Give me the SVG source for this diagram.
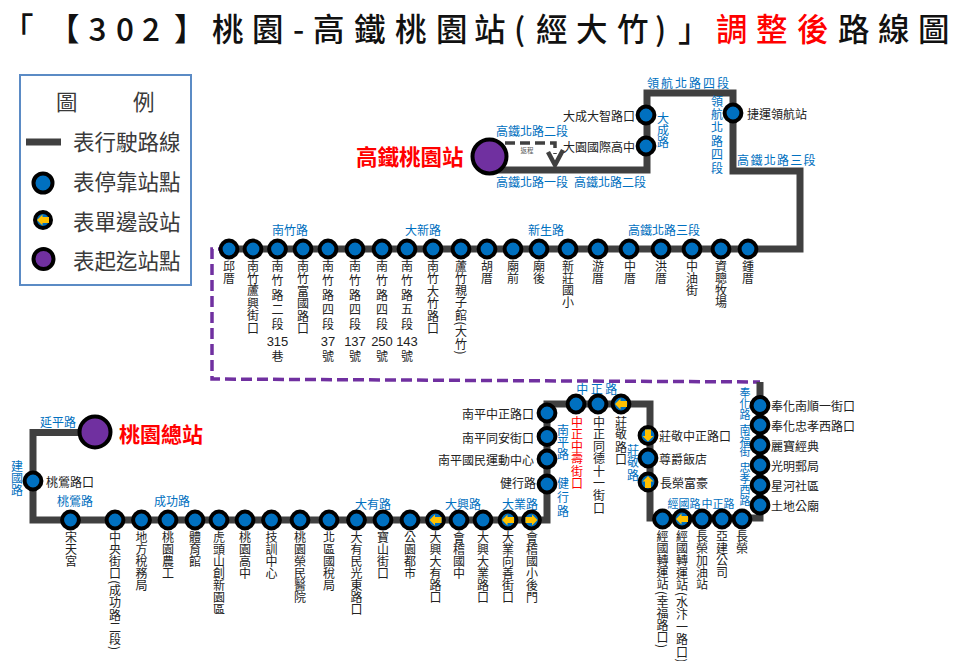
<svg xmlns="http://www.w3.org/2000/svg" width="960" height="661" viewBox="0 0 960 661">
<style>
text{font-family:"Noto Sans CJK TC","Noto Sans CJK SC",sans-serif;fill:#222}
.s{fill:#0070c0;stroke:#000;stroke-width:4}
.p{fill:#7030a0;stroke:#000;stroke-width:4}
.a{fill:#ffc000}
.route{fill:none;stroke:#404040;stroke-width:7;stroke-linejoin:miter}
.v{writing-mode:vertical-rl;font-size:12px}
.h{font-size:12px;dominant-baseline:central}
.n{font-family:"Liberation Sans",sans-serif;font-size:13px;text-anchor:middle;dominant-baseline:central}
.r{font-size:12px;fill:#0070c0;text-anchor:middle;dominant-baseline:central}
.rv{writing-mode:vertical-rl;font-size:12px;fill:#0070c0}
.big{font-weight:700;fill:#ff0000;dominant-baseline:central}
.lg{font-size:21.5px;dominant-baseline:central;fill:#3a3a3a}
</style>
<defs>
<polygon id="aL" class="a" points="-6,0 -0.500,-5.500 -0.500,-3 6,-3 6,3 -0.500,3 -0.500,5.500"/>
<polygon id="aR" class="a" points="6,0 0.500,-5.500 0.500,-3 -6,-3 -6,3 0.500,3 0.500,5.500"/>
<polygon id="aU" class="a" points="0,-6 -5.500,-0.500 -3,-0.500 -3,6 3,6 3,-0.500 5.500,-0.500"/>
<polygon id="aD" class="a" points="0,6 -5.500,0.500 -3,0.500 -3,-6 3,-6 3,0.500 5.500,0.500"/>
</defs>
<rect width="960" height="661" fill="#fff"/>

<g id="title">
<text y="41" font-size="31.500" font-weight="500" style="fill:#111" x="2 48 88.500 116 142 174 212 252 293 313 354 395 436 474 514 536 576 617 655 678 716 756 797 838 878 918">「【302】桃園-高鐵桃園站(經大竹)」<tspan style="fill:#ff0000">調整後</tspan>路線圖</text>
</g>

<g id="legend">
<rect x="20" y="75" width="171" height="210" fill="#fff" stroke="#5b8bc5" stroke-width="2"/>
<text class="lg" x="56" y="100">圖</text>
<text class="lg" x="133" y="100">例</text>
<line x1="26" y1="142" x2="61" y2="142" stroke="#404040" stroke-width="7"/>
<text class="lg" x="73" y="140">表行駛路線</text>
<circle cx="43" cy="183" r="9.500" class="s"/>
<text class="lg" x="73" y="180">表停靠站點</text>
<circle cx="43" cy="220" r="8" class="s"/>
<use href="#aL" x="43" y="220"/>
<text class="lg" x="73" y="220">表單邊設站</text>
<circle cx="43.500" cy="259" r="10" class="p"/>
<text class="lg" x="73" y="259">表起迄站點</text>
</g>

<g id="connectors">
<path class="route" d="M489 170H647V93H733V171H800V249H229"/>
<path d="M229 249H212V379L760 382" fill="none" stroke="#7030a0" stroke-width="3.500" stroke-dasharray="11 5"/>
<path class="route" d="M760 382V518H650V404H547V520H33V432.500H95"/>
<path d="M505 143H555V154" fill="none" stroke="#404040" stroke-width="3.500" stroke-dasharray="10 5"/>
<path d="M548 152L555 165L563 150" fill="none" stroke="#404040" stroke-width="4.500"/>
</g>

<g id="road-labels">
<text class="r" x="290" y="229.500">南竹路</text>
<text class="r" x="423" y="229.500">大新路</text>
<text class="r" x="546" y="229.500">新生路</text>
<text class="r" x="664" y="229.500">高鐵北路三段</text>
<text class="r" x="689" y="82.500" letter-spacing="2">領航北路四段</text>
<text class="r" x="532" y="130.500">高鐵北路二段</text>
<text class="r" x="532" y="181">高鐵北路一段</text>
<text class="r" x="610" y="181">高鐵北路二段</text>
<text class="r" x="777" y="159" letter-spacing="1.300">高鐵北路三段</text>
<text class="rv" x="663" y="112">大成路</text>
<text class="rv" x="717" y="95" letter-spacing="1.400">領航北路四段</text>
<text class="r" x="598" y="388" letter-spacing="2.500">中正路</text>
<text class="rv" x="563" y="424">南平路</text>
<text class="rv" x="563" y="477" letter-spacing="2">健行路</text>
<text class="rv" x="633" y="444" letter-spacing=".5">莊敬路</text>
<text class="r" x="463" y="503">大興路</text>
<text class="r" x="520" y="503">大業路</text>
<text class="r" x="373" y="503">大有路</text>
<text class="r" x="172" y="500.500">成功路</text>
<text class="r" x="75" y="500.500">桃鶯路</text>
<text class="r" x="58" y="421.500">延平路</text>
<text class="rv" x="17" y="460">建國路</text>
<text class="rv" x="745" y="387.500" style="font-size:11px">奉化路</text>
<text class="rv" x="745" y="424.500" style="font-size:11px">南福街</text>
<text class="rv" x="745" y="462" style="font-size:11px">忠孝西路</text>
<text class="r" x="684" y="502.500" style="font-size:11px">經國路</text>
<text class="r" x="718" y="502.500" style="font-size:11px">中正路</text>
<text x="527" y="150" font-size="6.500" text-anchor="middle" dominant-baseline="central" style="fill:#595959">返程</text>
</g>

<g id="hsr"><circle cx="489.500" cy="156.500" r="17" class="p"/><text class="big" font-size="21.500" x="356" y="155">高鐵桃園站</text></g>
<g id="terminal"><circle cx="95" cy="432" r="15.500" class="p"/><text class="big" font-size="21" x="119" y="433">桃園總站</text></g>

<g id="n-dzdz"><circle class="s" cx="646" cy="115" r="8.400"/><text class="h" x="563" y="115">大成大智路口</text></g>
<g id="n-dygj"><circle class="s" cx="646" cy="146" r="8.400"/><text class="h" x="563" y="146">大園國際高中</text></g>
<g id="n-jy"><circle class="s" cx="733" cy="113" r="8.400"/><text class="h" x="747" y="113">捷運領航站</text></g>

<g id="t01"><circle class="s" cx="229" cy="249" r="8.400"/><text class="v" x="229" y="260" letter-spacing=".7">邱厝</text></g>
<g id="t02"><circle class="s" cx="253" cy="249" r="8.400"/><text class="v" x="253" y="260" letter-spacing=".4">南竹蘆興街口</text></g>
<g id="t03"><circle class="s" cx="277.500" cy="249" r="8.400"/><text class="v" x="277.500" y="260" letter-spacing="2.600">南竹路二段</text><text class="n" x="277.500" y="341">315</text><text class="v" x="277.500" y="350">巷</text></g>
<g id="t04"><circle class="s" cx="303" cy="249" r="8.400"/><text class="v" x="303" y="260" letter-spacing=".5">南竹富國路口</text></g>
<g id="t05"><circle class="s" cx="328" cy="249" r="8.400"/><text class="v" x="328" y="260" letter-spacing="2.600">南竹路四段</text><text class="n" x="328" y="341">37</text><text class="v" x="328" y="350">號</text></g>
<g id="t06"><circle class="s" cx="355" cy="249" r="8.400"/><text class="v" x="355" y="260" letter-spacing="2.600">南竹路四段</text><text class="n" x="355" y="341">137</text><text class="v" x="355" y="350">號</text></g>
<g id="t07"><circle class="s" cx="382" cy="249" r="8.400"/><text class="v" x="382" y="260" letter-spacing="2.600">南竹路四段</text><text class="n" x="382" y="341">250</text><text class="v" x="382" y="350">號</text></g>
<g id="t08"><circle class="s" cx="407" cy="249" r="8.400"/><text class="v" x="407" y="260" letter-spacing="2.600">南竹路五段</text><text class="n" x="407" y="341">143</text><text class="v" x="407" y="350">號</text></g>
<g id="t09"><circle class="s" cx="433" cy="249" r="8.400"/><text class="v" x="433" y="260" letter-spacing=".5">南竹大竹路口</text></g>
<g id="t10"><circle class="s" cx="461" cy="249" r="8.400"/><text class="v" x="461" y="260" letter-spacing=".3">蘆竹親子館(大竹)</text></g>
<g id="t11"><circle class="s" cx="487" cy="249" r="8.400"/><text class="v" x="487" y="260" letter-spacing=".7">胡厝</text></g>
<g id="t12"><circle class="s" cx="513" cy="249" r="8.400"/><text class="v" x="513" y="260" letter-spacing=".7">廟前</text></g>
<g id="t13"><circle class="s" cx="539" cy="249" r="8.400"/><text class="v" x="539" y="260" letter-spacing=".7">廟後</text></g>
<g id="t14"><circle class="s" cx="568" cy="249" r="8.400"/><text class="v" x="568" y="260">新莊國小</text></g>
<g id="t15"><circle class="s" cx="598" cy="249" r="8.400"/><text class="v" x="598" y="260" letter-spacing=".7">游厝</text></g>
<g id="t16"><circle class="s" cx="629" cy="249" r="8.400"/><text class="v" x="630" y="260" letter-spacing=".7">中厝</text></g>
<g id="t17"><circle class="s" cx="661" cy="249" r="8.400"/><text class="v" x="661" y="260" letter-spacing=".7">洪厝</text></g>
<g id="t18"><circle class="s" cx="692" cy="249" r="8.400"/><text class="v" x="692" y="260">中油街</text></g>
<g id="t19"><circle class="s" cx="721" cy="249" r="8.400"/><text class="v" x="721" y="260">資聰牧場</text></g>
<g id="t20"><circle class="s" cx="748" cy="249" r="8.400"/><text class="v" x="748" y="260" letter-spacing=".7">鍾厝</text></g>

<g id="r1"><circle class="s" cx="760" cy="405.500" r="8.400"/><text class="h" x="771" y="405.500">奉化南順一街口</text></g>
<g id="r2"><circle class="s" cx="760" cy="425" r="8.400"/><text class="h" x="771" y="425">奉化忠孝西路口</text></g>
<g id="r3"><circle class="s" cx="760" cy="445" r="8.400"/><text class="h" x="771" y="445">麗寶經典</text></g>
<g id="r4"><circle class="s" cx="760" cy="465" r="8.400"/><text class="h" x="771" y="465">光明郵局</text></g>
<g id="r5"><circle class="s" cx="760" cy="485" r="8.400"/><text class="h" x="771" y="485">星河社區</text></g>
<g id="r6"><circle class="s" cx="760" cy="505" r="8.400"/><text class="h" x="771" y="505">土地公廟</text></g>

<g id="b1"><circle class="s" cx="742" cy="519" r="8.400"/><text class="v" x="742" y="530">長榮</text></g>
<g id="b2"><circle class="s" cx="722" cy="519" r="8.400"/><text class="v" x="722" y="530">亞建公司</text></g>
<g id="b3"><circle class="s" cx="702" cy="519" r="8.400"/><text class="v" x="702" y="530">長榮加油站</text></g>
<g id="b4"><circle class="s" cx="682" cy="519" r="8.400"/><use href="#aL" x="682" y="519"/><text class="v" x="682" y="530" letter-spacing=".4">經國轉運站(水汴一路口)</text></g>
<g id="b5"><circle class="s" cx="662.500" cy="519" r="8.400"/><text class="v" x="662.500" y="530" letter-spacing=".2">經國轉運站(幸福路口)</text></g>

<g id="c1"><circle class="s" cx="648" cy="482" r="8.400"/><use href="#aU" x="648" y="482"/><text class="h" x="660" y="482">長榮富豪</text></g>
<g id="c2"><circle class="s" cx="648" cy="458" r="8.400"/><text class="h" x="659" y="458">尊爵飯店</text></g>
<g id="c3"><circle class="s" cx="648" cy="435.500" r="8.400"/><use href="#aD" x="648" y="435.500"/><text class="h" x="659" y="435">莊敬中正路口</text></g>

<g id="m1"><circle class="s" cx="621" cy="404" r="8.400"/><use href="#aL" x="621" y="404"/><text class="v" x="621" y="416" letter-spacing=".5">莊敬路口</text></g>
<g id="m2"><circle class="s" cx="598" cy="404" r="8.400"/><text class="v" x="599" y="416" letter-spacing=".3">中正同德十一街口</text></g>
<g id="m3"><circle class="s" cx="576" cy="404" r="8.400"/><text class="v" x="577" y="416" letter-spacing=".3" style="fill:#ff0000">中正中壽街口</text></g>

<g id="d1"><circle class="s" cx="547" cy="413" r="8.400"/><text class="h" x="462" y="413">南平中正路口</text></g>
<g id="d2"><circle class="s" cx="547" cy="436.500" r="8.400"/><text class="h" x="462" y="437">南平同安街口</text></g>
<g id="d3"><circle class="s" cx="547" cy="459" r="8.400"/><text class="h" x="438" y="459">南平國民運動中心</text></g>
<g id="d4"><circle class="s" cx="547" cy="484" r="8.400"/><text class="h" x="500" y="482">健行路</text></g>

<g id="w01"><circle class="s" cx="531.500" cy="520" r="8.400"/><use href="#aR" x="531.500" y="520"/><text class="v" x="532" y="531">會稽國小後門</text></g>
<g id="w02"><circle class="s" cx="508" cy="520" r="8.400"/><use href="#aL" x="508" y="520"/><text class="v" x="508" y="531">大業向善街口</text></g>
<g id="w03"><circle class="s" cx="483" cy="520" r="8.400"/><text class="v" x="483" y="531">大興大業路口</text></g>
<g id="w04"><circle class="s" cx="459" cy="520" r="8.400"/><text class="v" x="459" y="531">會稽國中</text></g>
<g id="w05"><circle class="s" cx="435.500" cy="520" r="8.400"/><use href="#aL" x="435.500" y="520"/><text class="v" x="435.500" y="531">大興大有路口</text></g>
<g id="w06"><circle class="s" cx="410" cy="520" r="8.400"/><text class="v" x="410" y="531">公園都市</text></g>
<g id="w07"><circle class="s" cx="383" cy="520" r="8.400"/><text class="v" x="383" y="531">寶山街口</text></g>
<g id="w08"><circle class="s" cx="356.500" cy="520" r="8.400"/><text class="v" x="356.500" y="531">大有民光東路口</text></g>
<g id="w09"><circle class="s" cx="329" cy="520" r="8.400"/><text class="v" x="329" y="531">北區國稅局</text></g>
<g id="w10"><circle class="s" cx="300" cy="520" r="8.400"/><text class="v" x="300" y="531">桃園榮民醫院</text></g>
<g id="w11"><circle class="s" cx="271.500" cy="520" r="8.400"/><text class="v" x="271.500" y="531">技訓中心</text></g>
<g id="w12"><circle class="s" cx="245" cy="520" r="8.400"/><text class="v" x="245" y="531">桃園高中</text></g>
<g id="w13"><circle class="s" cx="219" cy="520" r="8.400"/><text class="v" x="219" y="531">虎頭山創新園區</text></g>
<g id="w14"><circle class="s" cx="195" cy="520" r="8.400"/><text class="v" x="195" y="531">體育館</text></g>
<g id="w15"><circle class="s" cx="168" cy="520" r="8.400"/><text class="v" x="168" y="531">桃園農工</text></g>
<g id="w16"><circle class="s" cx="141.500" cy="520" r="8.400"/><text class="v" x="141.500" y="531">地方稅務局</text></g>
<g id="w17"><circle class="s" cx="115" cy="520" r="8.400"/><text class="v" x="115" y="531" letter-spacing=".3">中央街口(成功路二段)</text></g>
<g id="w18"><circle class="s" cx="70.500" cy="520" r="8.400"/><text class="v" x="71" y="531">宋天宮</text></g>
<g id="w19"><circle class="s" cx="33" cy="481" r="8.400"/><text class="h" x="46" y="481">桃鶯路口</text></g>
</svg>
